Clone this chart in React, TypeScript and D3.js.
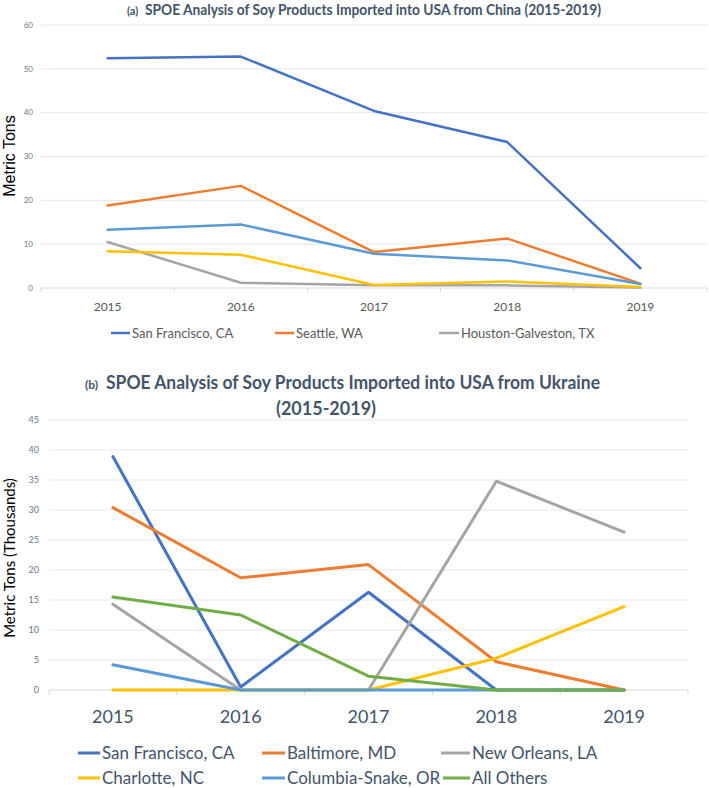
import React from "react";
import * as d3 from "d3";

// years on both panels
const years = ["2015", "2016", "2017", "2018", "2019"];

// (a) China, metric tons
const chinaNames = ["San Francisco, CA", "Seattle, WA", "Houston-Galveston, TX", "", ""];
const chinaSanFrancisco = [52.4, 52.8, 40.4, 33.3, 4.5];
const chinaSeattle = [18.8, 23.3, 8.2, 11.3, 1.0];
const chinaHouston = [10.5, 1.2, 0.6, 0.6, 0.1];
const chinaYellow = [8.4, 7.6, 0.7, 1.5, 0.2];
const chinaLightBlue = [13.3, 14.5, 7.8, 6.3, 0.9];
const chinaTicks = [0, 10, 20, 30, 40, 50, 60];

// (b) Ukraine, thousand metric tons
const ukraineNames = [
  "San Francisco, CA",
  "Baltimore, MD",
  "New Orleans, LA",
  "Charlotte, NC",
  "Columbia-Snake, OR",
  "All Others",
];
const ukraineSanFrancisco = [38.9, 0.5, 16.3, 0, 0];
const ukraineBaltimore = [30.4, 18.7, 20.9, 4.7, 0];
const ukraineNewOrleans = [14.3, 0, 0, 34.8, 26.3];
const ukraineCharlotte = [0, 0, 0, 5.3, 13.9];
const ukraineColumbia = [4.2, 0, 0, 0, 0];
const ukraineOthers = [15.5, 12.5, 2.3, 0, 0];
const ukraineTicks = [0, 5, 10, 15, 20, 25, 30, 35, 40, 45];

const chinaColors = ["#4472C4", "#ED7D31", "#A5A5A5", "#FFC000", "#5B9BD5"];
const ukraineColors = ["#4472C4", "#ED7D31", "#A5A5A5", "#FFC000", "#5B9BD5", "#70AD47"];

const titleColor = "#44546A";
const tickColor = "#6B778A";
const grid = "#E3E8EF";

const App: React.FC = () => {
  const chinaSeries = [chinaSanFrancisco, chinaSeattle, chinaHouston, chinaYellow, chinaLightBlue];
  const ukraineSeries = [
    ukraineSanFrancisco,
    ukraineBaltimore,
    ukraineNewOrleans,
    ukraineCharlotte,
    ukraineColumbia,
    ukraineOthers,
  ];

  const xA = d3.scaleBand().domain(years).range([41, 707]);
  const yA = d3.scaleLinear().domain([0, 60]).range([288, 25]);
  const xB = d3.scaleBand().domain(years).range([49, 688]);
  const yB = d3.scaleLinear().domain([0, 45]).range([690, 420]);

  const lineA = d3
    .line<number>()
    .x((_, i) => (xA(years[i]) as number) + xA.bandwidth() / 2)
    .y((d) => yA(d));
  const lineB = d3
    .line<number>()
    .x((_, i) => (xB(years[i]) as number) + xB.bandwidth() / 2)
    .y((d) => yB(d));

  // legend slots
  const legendA = [
    { x1: 111, x2: 130 },
    { x1: 275, x2: 294 },
    { x1: 439, x2: 459 },
  ];
  const legendB = [
    { x1: 78, x2: 100, y: 753 },
    { x1: 262, x2: 285, y: 753 },
    { x1: 441, x2: 470, y: 753 },
    { x1: 78, x2: 100, y: 778 },
    { x1: 262, x2: 285, y: 778 },
    { x1: 443, x2: 470, y: 778 },
  ];

  return (
    <div style={{ position: "absolute", left: 0, top: 0 }}>
      <svg width={709} height={788} style={{ display: "block", background: "#fff" }}>
        {/* ---------- (a) China ---------- */}
        <text x={127} y={15} fontFamily="Lato" fontWeight="bold" fontSize={11} fill={titleColor}>
          (a)
        </text>
        <text
          x={145}
          y={15}
          fontFamily="Lato"
          fontWeight="bold"
          fontSize={15}
          fill={titleColor}
          textLength={456}
          lengthAdjust="spacingAndGlyphs"
        >
          SPOE Analysis of Soy Products Imported into USA from China (2015-2019)
        </text>

        {chinaTicks.map((t) => (
          <g key={"ga" + t}>
            <line x1={41} x2={707} y1={yA(t)} y2={yA(t)} stroke={t === 0 ? "#D9D9D9" : grid} strokeWidth={1} />
            <text x={33} y={yA(t)} dy="0.35em" textAnchor="end" fontFamily="Lato" fontSize={8} fill={tickColor}>
              {t}
            </text>
          </g>
        ))}
        {d3.range(years.length + 1).map((i) => {
          const x = 41 + i * xA.step();
          return <line key={"ta" + i} x1={x} x2={x} y1={288} y2={292} stroke="#D9D9D9" />;
        })}
        {years.map((yr) => (
          <text
            key={"xa" + yr}
            x={(xA(yr) as number) + xA.bandwidth() / 2}
            y={307}
            dy="0.35em"
            textAnchor="middle"
            fontFamily="Lato"
            fontSize={12}
            fill="#595959"
          >
            {yr}
          </text>
        ))}
        <text
          transform="translate(15,156) rotate(-90)"
          textAnchor="middle"
          fontFamily="Liberation Sans"
          fontSize={16}
          fill="#000"
        >
          Metric Tons
        </text>

        {chinaSeries.map((s, i) => (
          <path
            key={"la" + i}
            d={lineA(s) as string}
            fill="none"
            stroke={chinaColors[i]}
            strokeWidth={2.5}
            strokeLinejoin="round"
            strokeLinecap="round"
          />
        ))}

        {legendA.map((l, i) => (
          <g key={"lga" + i}>
            <line x1={l.x1} x2={l.x2} y1={333} y2={333} stroke={chinaColors[i]} strokeWidth={2.5} />
            <text x={l.x2 + 2} y={333} dy="0.35em" fontFamily="Lato" fontSize={13} fill="#595959">
              {chinaNames[i]}
            </text>
          </g>
        ))}

        {/* ---------- (b) Ukraine ---------- */}
        <text x={85} y={389} fontFamily="Lato" fontWeight="bold" fontSize={12} fill={titleColor}>
          (b)
        </text>
        <text
          x={106}
          y={389}
          fontFamily="Lato"
          fontWeight="bold"
          fontSize={18}
          fill={titleColor}
          textLength={494}
          lengthAdjust="spacingAndGlyphs"
        >
          SPOE Analysis of Soy Products Imported into USA from Ukraine
        </text>
        <text x={326} y={415} textAnchor="middle" fontFamily="Lato" fontWeight="bold" fontSize={18} fill={titleColor}>
          (2015-2019)
        </text>

        {ukraineTicks.map((t) => (
          <g key={"gb" + t}>
            <line x1={49} x2={688} y1={yB(t)} y2={yB(t)} stroke={t === 0 ? "#D9D9D9" : grid} strokeWidth={1} />
            <text x={39} y={yB(t)} dy="0.35em" textAnchor="end" fontFamily="Lato" fontSize={9} fill={tickColor}>
              {t}
            </text>
          </g>
        ))}
        {d3.range(years.length + 1).map((i) => {
          const x = 49 + i * xB.step();
          return <line key={"tb" + i} x1={x} x2={x} y1={690} y2={695} stroke="#D9D9D9" />;
        })}
        {years.map((yr) => (
          <text
            key={"xb" + yr}
            x={(xB(yr) as number) + xB.bandwidth() / 2}
            y={717}
            dy="0.35em"
            textAnchor="middle"
            fontFamily="Lato"
            fontSize={18}
            fill={titleColor}
          >
            {yr}
          </text>
        ))}
        <text
          transform="translate(15,558) rotate(-90)"
          textAnchor="middle"
          fontFamily="Lato"
          fontSize={15}
          fill="#000"
        >
          Metric Tons (Thousands)
        </text>

        {ukraineSeries.map((s, i) => (
          <path
            key={"lb" + i}
            d={lineB(s) as string}
            fill="none"
            stroke={ukraineColors[i]}
            strokeWidth={3}
            strokeLinejoin="round"
            strokeLinecap="round"
          />
        ))}

        {legendB.map((l, i) => (
          <g key={"lgb" + i}>
            <line x1={l.x1} x2={l.x2} y1={l.y} y2={l.y} stroke={ukraineColors[i]} strokeWidth={3} />
            <text x={l.x2 + 2} y={l.y} dy="0.35em" fontFamily="Lato" fontSize={17} fill={titleColor}>
              {ukraineNames[i]}
            </text>
          </g>
        ))}
      </svg>
    </div>
  );
};

export default App;
